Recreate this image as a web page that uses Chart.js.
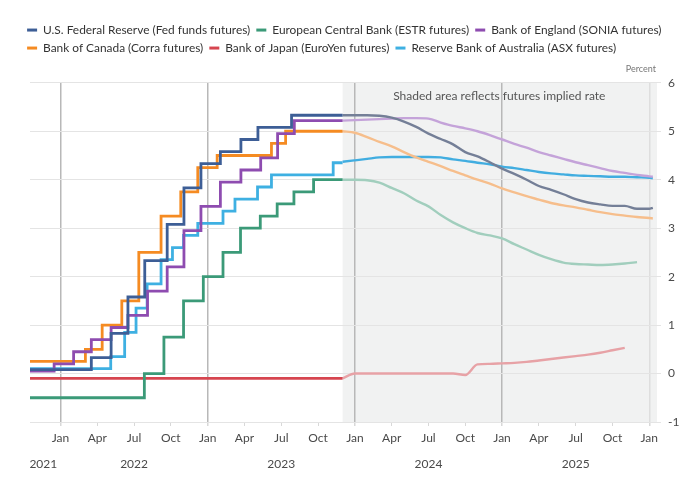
<!DOCTYPE html>
<html>
<head>
<meta charset="utf-8">
<script src="https://cdn.jsdelivr.net/npm/chart.js@4.4.1/dist/chart.umd.min.js"></script>
<style>
html,body{margin:0;padding:0;background:#ffffff;}
#box{position:relative;width:700px;height:484px;}
</style>
</head>
<body>
<div id="box"><canvas id="chart"></canvas></div>
<script>
// ---------- data ----------
const xStart = '2021-10-17';
const xEnd = '2026-01-18';
const histEnd = '2023-12-01';
const shadeStart = '2023-12-01';

const bankLabels = [
  'U.S. Federal Reserve (Fed funds futures)',
  'European Central Bank (ESTR futures)',
  'Bank of England (SONIA futures)',
  'Bank of Canada (Corra futures)',
  'Bank of Japan (EuroYen futures)',
  'Reserve Bank of Australia (ASX futures)'
];

// policy-rate history (step changes)
const fedDates = ['2021-10-17','2022-03-17','2022-05-05','2022-06-16','2022-07-28','2022-09-22','2022-11-03','2022-12-15','2023-02-02','2023-03-23','2023-05-04','2023-07-27'];
const fedRates = [0.08,0.33,0.83,1.58,2.33,3.08,3.83,4.33,4.58,4.83,5.08,5.33];

const ecbDates = ['2021-10-17','2022-07-27','2022-09-14','2022-11-02','2022-12-21','2023-02-08','2023-03-22','2023-05-10','2023-06-21','2023-08-02','2023-09-20'];
const ecbRates = [-0.5,0.0,0.75,1.5,2.0,2.5,3.0,3.25,3.5,3.75,4.0];

const boeDates = ['2021-10-17','2021-12-16','2022-02-03','2022-03-17','2022-05-05','2022-06-16','2022-08-04','2022-09-22','2022-11-03','2022-12-15','2023-02-02','2023-03-23','2023-05-11','2023-06-22','2023-08-03'];
const boeRates = [0.05,0.2,0.45,0.7,0.95,1.2,1.7,2.2,2.95,3.45,3.95,4.2,4.45,4.95,5.22];

const bocDates = ['2021-10-17','2022-03-02','2022-04-13','2022-06-01','2022-07-13','2022-09-07','2022-10-26','2022-12-07','2023-01-25','2023-06-07','2023-07-12'];
const bocRates = [0.25,0.5,1.0,1.5,2.5,3.25,3.75,4.25,4.5,4.75,5.0];

const bojDates = ['2021-10-17'];
const bojRates = [-0.1];

const rbaDates = ['2021-10-17','2022-05-04','2022-06-08','2022-07-06','2022-08-03','2022-09-07','2022-10-05','2022-11-02','2022-12-07','2023-02-08','2023-03-08','2023-05-03','2023-06-07','2023-11-08'];
const rbaRates = [0.1,0.35,0.85,1.35,1.85,2.35,2.6,2.85,3.1,3.35,3.6,3.85,4.1,4.35];

// futures-implied paths
const projDates = ['2023-12-01','2024-01-01','2024-02-01','2024-03-01','2024-04-01','2024-05-01','2024-06-01','2024-07-01','2024-08-01','2024-09-01','2024-10-01','2024-11-01','2024-12-01',
                   '2025-01-01','2025-02-01','2025-03-01','2025-04-01','2025-05-01','2025-06-01','2025-07-01','2025-08-01','2025-09-01','2025-10-01','2025-11-01','2025-12-01','2026-01-01','2026-01-10'];
const fedProj = [5.33,5.33,5.33,5.32,5.28,5.20,5.09,4.95,4.84,4.73,4.57,4.48,4.36,4.23,4.12,4.00,3.87,3.79,3.70,3.60,3.53,3.49,3.46,3.46,3.40,3.40,3.42];
const ecbProj = [4.00,4.00,3.99,3.94,3.83,3.72,3.57,3.45,3.27,3.12,3.00,2.90,2.85,2.79,2.67,2.56,2.45,2.36,2.29,2.26,2.25,2.24,2.25,2.27,2.30,null,null];
const boeProj = [5.22,5.23,5.24,5.25,5.26,5.27,5.27,5.26,5.18,5.11,5.06,5.00,4.92,4.83,4.74,4.66,4.57,4.50,4.43,4.36,4.30,4.24,4.18,4.14,4.10,4.07,4.06];
const bocProj = [5.00,4.97,4.88,4.78,4.69,4.57,4.46,4.37,4.28,4.18,4.09,4.00,3.92,3.82,3.74,3.66,3.59,3.52,3.47,3.43,3.38,3.33,3.29,3.26,3.23,3.21,3.20];
const bojProj = [-0.10,0.00,0.00,0.00,0.00,0.00,0.00,0.00,0.00,0.00,-0.03,0.19,0.20,0.21,0.22,0.24,0.27,0.30,0.33,0.36,0.39,0.43,0.48,0.53,null,null,null];
const rbaProj = [4.37,4.40,4.43,4.46,4.47,4.47,4.47,4.47,4.46,4.42,4.39,4.35,4.32,4.27,4.24,4.20,4.16,4.13,4.11,4.09,4.08,4.07,4.06,4.06,4.05,4.04,4.03];

// axis labels
const monthNames = ['Jan','Apr','Jul','Oct'];
const firstYearLabel = '2021';
const firstYearPos = '2021-11-19';
const yearStart = 2022;
const yearEnd = 2026;

// ---------- styles ----------
const FONT = 'Lato, "Noto Sans", sans-serif';
const histColors = ['#3d5e96','#3b9a78','#8e4cb0','#f58b22','#d6454f','#3eb0e2'];
const projColors = ['#747f97','#a1cebd','#c4a3d9','#f6be8c','#e7a2a6','#41ade0'];

// ---------- helpers ----------
function m(s){
  const p = s.split('-').map(Number);
  const y = p[0], mo = p[1], d = p[2] || 1;
  const dim = new Date(y, mo, 0).getDate();
  return (y - yearStart) * 12 + (mo - 1) + (d - 1) / dim;
}

const hist = [[fedDates,fedRates],[ecbDates,ecbRates],[boeDates,boeRates],[bocDates,bocRates],[bojDates,bojRates],[rbaDates,rbaRates]];
const proj = [fedProj,ecbProj,boeProj,bocProj,bojProj,rbaProj];

const datasets = [];
hist.forEach(([ds, rs], i) => {
  const pts = ds.map((d, k) => ({x: m(d), y: rs[k]}));
  pts.push({x: m(histEnd), y: rs[rs.length - 1]});
  datasets.push({
    label: bankLabels[i], data: pts, stepped: 'before',
    borderColor: histColors[i], backgroundColor: histColors[i],
    borderWidth: 2.8, pointRadius: 0, fill: false
  });
});
proj.forEach((vals, i) => {
  datasets.push({
    label: bankLabels[i] + ' path', isProj: true,
    data: projDates.map((d, k) => ({x: m(d), y: vals[k]})),
    borderColor: projColors[i], backgroundColor: projColors[i],
    borderWidth: 2.4, pointRadius: 0, fill: false,
    cubicInterpolationMode: 'monotone', spanGaps: false
  });
});

const xTickVals = [m(firstYearPos)];
for (let y = yearStart; y <= yearEnd; y++) {
  for (let q = 0; q < 4; q++) {
    const v = (y - yearStart) * 12 + q * 3;
    if (v <= 48) xTickVals.push(v);
  }
}
const isYearTick = v => Math.abs(v - m(firstYearPos)) < 0.01;
const isJan = v => Math.abs(v % 12) < 0.001 && !isYearTick(v);

const shadePlugin = {
  id: 'shade',
  beforeDraw(chart) {
    const {ctx, chartArea: a, scales: {x}} = chart;
    const x0 = x.getPixelForValue(m(shadeStart));
    ctx.save();
    ctx.fillStyle = '#f1f2f2';
    ctx.fillRect(x0, a.top, a.right - x0 + 1, a.bottom - a.top);
    ctx.restore();
  },
  beforeDatasetsDraw(chart) {
    const {ctx, chartArea: a, scales: {x}} = chart;
    const x0 = x.getPixelForValue(m(shadeStart));
    ctx.save();
    ctx.fillStyle = '#555';
    ctx.font = '12px ' + FONT;
    ctx.textAlign = 'center';
    ctx.textBaseline = 'middle';
    ctx.fillText('Shaded area reflects futures implied rate', (x0 + a.right) / 2, a.top + 13);
    ctx.restore();
  }
};

Chart.defaults.font.family = FONT;

new Chart(document.getElementById('chart'), {
  type: 'line',
  data: {datasets},
  plugins: [shadePlugin],
  options: {
    responsive: true, maintainAspectRatio: false, animation: false,
    layout: {padding: {top: 18, left: 21, right: 0, bottom: 0}},
    plugins: {
      tooltip: {enabled: false},
      legend: {
        position: 'top', align: 'start',
        labels: {
          boxWidth: 10, boxHeight: 3, padding: 6.1, color: '#333',
          font: {family: FONT, size: 11.9},
          generateLabels(chart) {
            return Chart.defaults.plugins.legend.labels.generateLabels(chart)
              .filter(it => !chart.data.datasets[it.datasetIndex].isProj)
              .map(it => Object.assign(it, {lineWidth: 0, fillStyle: it.strokeStyle}));
          }
        }
      },
      subtitle: {
        display: true, text: 'Percent', position: 'top', align: 'end',
        fullSize: false, weight: 500, color: '#777',
        font: {family: FONT, size: 9, weight: 'normal'},
        padding: {top: 0, bottom: 8}
      }
    },
    scales: {
      x: {
        type: 'linear', min: m(xStart), max: m(xEnd),
        afterBuildTicks: s => { s.ticks = xTickVals.map(v => ({value: v})); },
        afterFit: s => { s.height = 62; },
        border: {display: false},
        grid: {
          color: c => (c.tick && isJan(c.tick.value)) ? (c.tick.value >= 48 ? '#dedede' : '#b8b8b8') : 'rgba(0,0,0,0)',
          lineWidth: c => (c.tick && isJan(c.tick.value)) ? 1.5 : 1,
          tickColor: c => (c.tick && isYearTick(c.tick.value)) ? 'rgba(0,0,0,0)' : '#d8d8d8',
          tickLength: 4
        },
        ticks: {
          autoSkip: false, maxRotation: 0, minRotation: 0, padding: 0, color: '#4a4a4a',
          font: {family: FONT, size: 12, lineHeight: 2.1},
          callback: v => {
            if (isYearTick(v)) return ['', firstYearLabel];
            const mo = ((Math.round(v) % 12) + 12) % 12;
            const name = monthNames[mo / 3];
            if (mo === 6) return [name, String(yearStart + Math.floor(v / 12))];
            return name;
          }
        }
      },
      y: {
        position: 'right', min: -1, max: 6,
        afterFit: s => { s.width = 44; },
        border: {display: false},
        grid: {color: '#e4e4e4', tickColor: '#e4e4e4', tickLength: 5},
        ticks: {stepSize: 1, padding: 7, crossAlign: 'near', color: '#4a4a4a', font: {family: FONT, size: 12}}
      },
      yl: {
        position: 'left', display: true,
        afterFit: s => { s.width = 9; },
        grid: {display: false}, border: {display: false}, ticks: {display: false}
      }
    }
  }
});
</script>
</body>
</html>
